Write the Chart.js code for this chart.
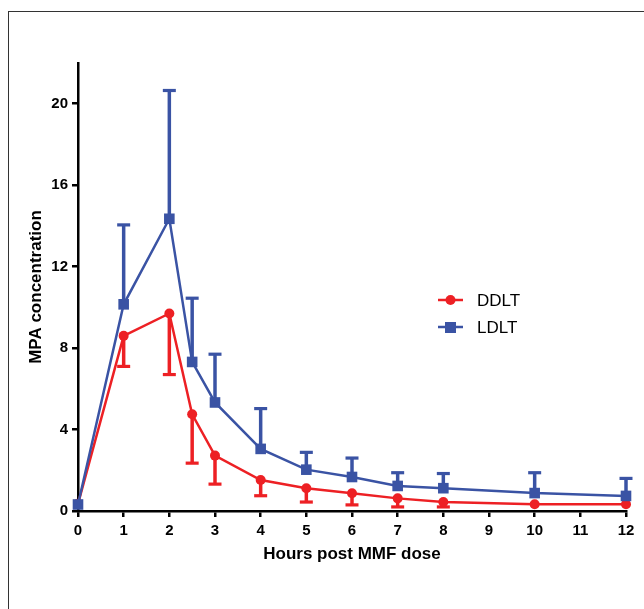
<!DOCTYPE html>
<html>
<head>
<meta charset="utf-8">
<script src="https://cdn.jsdelivr.net/npm/chart.js@4/dist/chart.umd.min.js"></script>
<style>
  html, body { margin: 0; padding: 0; background: #fff; }
  #wrap { position: relative; width: 644px; height: 609px; overflow: hidden; }
  #frame { position: absolute; left: 8px; top: 11px; width: 700px; height: 700px;
           border-left: 1px solid #333; border-top: 1px solid #333; }
  #mpaChart { position: absolute; left: 0; top: 0; }
</style>
</head>
<body>
<div id="wrap">
  <div id="frame"></div>
  <canvas id="mpaChart" width="644" height="609"></canvas>
</div>
<script>
// данные
const hours = [0, 1, 2, 2.5, 3, 4, 5, 6, 7, 8, 10, 12];
const ddlt = [0.35, 8.6, 9.7, 4.75, 2.72, 1.52, 1.12, 0.87, 0.62, 0.44, 0.33, 0.33];
const ddltErr = [0, 1.5, 3.0, 2.4, 1.4, 0.77, 0.68, 0.57, 0.42, 0.24, 0, 0];   // вниз
const ldlt = [0.32, 10.15, 14.35, 7.32, 5.33, 3.05, 2.03, 1.67, 1.23, 1.12, 0.88, 0.74];
const ldltErr = [0, 3.9, 6.3, 3.13, 2.37, 1.98, 0.85, 0.93, 0.65, 0.72, 1.0, 0.86]; // вверх
const xTicks = [0, 1, 2, 3, 4, 5, 6, 7, 8, 9, 10, 11, 12];

const RED = '#ED2024';
const BLUE = '#3A53A4';

function toXY(xs, ys) {
    return xs.map((x, i) => ({ x: x, y: ys[i] }));
}

// усы погрешностей (рисуем через шкалы графика)
const errorBars = {
    id: 'errorBars',
    beforeDatasetsDraw(chart) {
        const ctx = chart.ctx;
        const xs = chart.scales.x, ys = chart.scales.y;
        chart.data.datasets.forEach(ds => {
            ctx.save();
            ctx.strokeStyle = ds.borderColor;
            ds.data.forEach((p, i) => {
                const e = ds.errors[i];
                if (!e) return;
                const px = xs.getPixelForValue(p.x);
                const y0 = ys.getPixelForValue(p.y);
                const y1 = ys.getPixelForValue(p.y + ds.errDir * e);
                ctx.lineWidth = 3.5;
                ctx.beginPath();
                ctx.moveTo(px, y0);
                ctx.lineTo(px, y1);
                ctx.stroke();
                ctx.lineWidth = 3.2;
                ctx.beginPath();
                ctx.moveTo(px - 6.5, y1);
                ctx.lineTo(px + 6.5, y1);
                ctx.stroke();
            });
            ctx.restore();
        });
    }
};

// легенда внутри поля графика
const innerLegend = {
    id: 'innerLegend',
    afterDraw(chart) {
        const ctx = chart.ctx;
        const items = [
            { label: 'DDLT', color: RED, style: 'circle', y: 300 },
            { label: 'LDLT', color: BLUE, style: 'rect', y: 327 }
        ];
        ctx.save();
        items.forEach(it => {
            ctx.strokeStyle = it.color;
            ctx.fillStyle = it.color;
            ctx.lineWidth = 2.5;
            ctx.beginPath();
            ctx.moveTo(438, it.y);
            ctx.lineTo(463, it.y);
            ctx.stroke();
            if (it.style === 'circle') {
                ctx.beginPath();
                ctx.arc(450.5, it.y, 5, 0, Math.PI * 2);
                ctx.fill();
            } else {
                ctx.fillRect(445, it.y - 5, 11, 11);
            }
            ctx.fillStyle = '#000';
            ctx.font = '17px "Liberation Sans", Arial, sans-serif';
            ctx.textBaseline = 'middle';
            ctx.fillText(it.label, 477, it.y + 1);
        });
        ctx.restore();
    }
};

const tickFont = { family: '"Liberation Sans", Arial, sans-serif', size: 15, weight: 'bold' };
const titleFont = { family: '"Liberation Sans", Arial, sans-serif', size: 17, weight: 'bold' };

new Chart(document.getElementById('mpaChart'), {
    type: 'line',
    data: {
        datasets: [
            {
                label: 'DDLT',
                data: toXY(hours, ddlt),
                errors: ddltErr,
                errDir: -1,
                borderColor: RED,
                backgroundColor: RED,
                borderWidth: 2.5,
                pointStyle: 'circle',
                pointRadius: 5,
                pointBorderWidth: 0,
                pointBackgroundColor: RED,
                tension: 0,
                clip: false,
                order: 2
            },
            {
                label: 'LDLT',
                data: toXY(hours, ldlt),
                errors: ldltErr,
                errDir: 1,
                borderColor: BLUE,
                backgroundColor: BLUE,
                borderWidth: 2.5,
                pointStyle: 'rect',
                pointRadius: 7.5,
                pointBorderWidth: 0,
                pointBackgroundColor: BLUE,
                tension: 0,
                clip: false,
                order: 1
            }
        ]
    },
    options: {
        responsive: false,
        animation: false,
        layout: { padding: { top: 63, right: 18, left: 0, bottom: 0 } },
        plugins: {
            legend: { display: false },
            tooltip: { enabled: false }
        },
        scales: {
            x: {
                type: 'linear',
                min: 0,
                max: 12,
                afterFit: s => { s.height = 98; },
                afterBuildTicks: s => { s.ticks = xTicks.map(v => ({ value: v })); },
                border: { color: '#000', width: 2.5 },
                grid: { drawOnChartArea: false, drawTicks: true, tickLength: 6, color: '#000', lineWidth: 2.5 },
                ticks: { color: '#000', font: tickFont, padding: 5, maxRotation: 0 },
                title: { display: true, text: 'Hours post MMF dose', color: '#000', font: titleFont,
                         padding: { top: 0, bottom: 44 } }
            },
            y: {
                type: 'linear',
                min: 0,
                max: 22,
                afterFit: s => { s.width = 78; },
                border: { color: '#000', width: 2.5 },
                grid: { drawOnChartArea: false, drawTicks: true, tickLength: 6, color: '#000', lineWidth: 2.5 },
                ticks: { color: '#000', font: tickFont, padding: 4, stepSize: 4, includeBounds: false },
                title: { display: true, text: 'MPA concentration', color: '#000', font: titleFont,
                         padding: { top: 26, bottom: 0 } }
            }
        }
    },
    plugins: [errorBars, innerLegend]
});
</script>
</body>
</html>
